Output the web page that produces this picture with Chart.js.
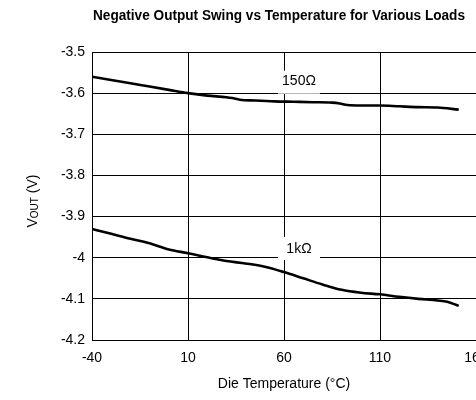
<!DOCTYPE html>
<html>
<head>
<meta charset="utf-8">
<script src="https://cdn.jsdelivr.net/npm/chart.js@4.4.0/dist/chart.umd.min.js"></script>
<style>
  html, body { margin: 0; padding: 0; background: #fff; overflow: hidden; width: 476px; height: 400px; }
  #wrap { position: relative; width: 520px; height: 400px; }
</style>
</head>
<body>
<div id="wrap"><canvas id="chart"></canvas></div>
<script>
const titleText = "Negative Output Swing vs Temperature for Various Loads";
const xTitle = "Die Temperature (°C)";
const yTickLabels = ["-4.2", "-4.1", "-4", "-3.9", "-3.8", "-3.7", "-3.6", "-3.5"];
const curveLabels = ["150Ω", "1kΩ"];

// 150 ohm load
const temp150 = [-40, -30, -20, -10, 0, 10, 20, 30, 33, 37, 45, 55, 65, 75, 85, 89, 93, 100, 110, 120, 130, 140, 151];
const vout150 = [-3.560, -3.568, -3.576, -3.584, -3.592, -3.600, -3.606, -3.610, -3.612, -3.616, -3.618, -3.620, -3.621, -3.622, -3.623, -3.625, -3.629, -3.630, -3.630, -3.632, -3.634, -3.635, -3.640];

// 1k ohm load
const temp1k = [-40, -30, -20, -10, 0, 10, 20, 30, 40, 50, 60, 70, 80, 90, 100, 110, 120, 130, 140, 145, 151];
const vout1k = [-3.930, -3.942, -3.954, -3.965, -3.980, -3.989, -3.999, -4.008, -4.014, -4.022, -4.035, -4.050, -4.065, -4.078, -4.085, -4.089, -4.095, -4.100, -4.104, -4.107, -4.117];

const FONT = '"Liberation Sans", Arial, sans-serif';
Chart.defaults.font.family = FONT;
Chart.defaults.color = "#000";

// labels on the curves, title and the V_OUT axis title
const annotate = {
    id: "annotate",
    beforeDatasetsDraw(chart) {
        const { ctx, scales: { x, y } } = chart;
        ctx.save();
        ctx.font = "14px " + FONT;
        ctx.textAlign = "center";
        ctx.textBaseline = "middle";
        const spots = [[curveLabels[0], 67.8, -3.5698, 10, 13], [curveLabels[1], 67.8, -3.9786, 12, 11]];
        spots.forEach(([t, tx, ty, up, down]) => {
            const px = x.getPixelForValue(tx);
            const py = y.getPixelForValue(ty);
            ctx.fillStyle = "#fff";
            ctx.fillRect(px - 21, py - up, 42, up + down);
            ctx.fillStyle = "#000";
            ctx.fillText(t, px, py);
        });
        ctx.restore();
    },
    afterDraw(chart) {
        const ctx = chart.ctx;
        ctx.save();
        // title, condensed bold
        ctx.font = 'bold 14px "Liberation Sans Narrow", "Liberation Sans", Arial, sans-serif';
        ctx.textAlign = "left";
        ctx.textBaseline = "middle";
        const w = ctx.measureText(titleText).width;
        const target = 372;
        ctx.translate(279 - target / 2, 16);
        ctx.scale(target / w, 1);
        ctx.fillText(titleText, 0, 0);
        ctx.restore();

        // y axis title: V with OUT subscript
        ctx.save();
        ctx.translate(33, 201);
        ctx.rotate(-Math.PI / 2);
        ctx.textBaseline = "middle";
        ctx.textAlign = "left";
        const big = "14px " + FONT, small = "10px " + FONT;
        ctx.font = big; const wV = ctx.measureText("V").width; const wR = ctx.measureText(" (V)").width;
        ctx.font = small; const wO = ctx.measureText("OUT").width;
        let cx = -(wV + wO + wR) / 2;
        ctx.font = big; ctx.fillText("V", cx, 0); cx += wV;
        ctx.font = small; ctx.fillText("OUT", cx, 2); cx += wO;
        ctx.font = big; ctx.fillText(" (V)", cx, 0);
        ctx.restore();
    }
};

new Chart(document.getElementById("chart"), {
    type: "line",
    data: {
        datasets: [
            {
                label: curveLabels[0],
                data: temp150.map((t, i) => ({ x: t, y: vout150[i] })),
                borderColor: "#000",
                borderWidth: 2.6,
                pointRadius: 0,
                cubicInterpolationMode: "monotone"
            },
            {
                label: curveLabels[1],
                data: temp1k.map((t, i) => ({ x: t, y: vout1k[i] })),
                borderColor: "#000",
                borderWidth: 2.6,
                pointRadius: 0,
                cubicInterpolationMode: "monotone"
            }
        ]
    },
    options: {
        responsive: true,
        maintainAspectRatio: false,
        animation: false,
        layout: { padding: { top: 52, left: 0, right: 44, bottom: 0 } },
        plugins: { legend: { display: false }, tooltip: { enabled: false } },
        scales: {
            x: {
                type: "linear",
                min: -40,
                max: 160,
                ticks: { stepSize: 50, padding: 10, font: { size: 14 } },
                grid: { color: "#000", lineWidth: 1, drawTicks: false },
                border: { color: "#000", width: 1 },
                title: { display: true, text: xTitle, font: { size: 14 }, padding: { top: 0, bottom: 7 } },
                afterFit(s) { s.height = 60; }
            },
            y: {
                min: -4.2,
                max: -3.5,
                ticks: {
                    stepSize: 0.1,
                    padding: 7,
                    font: { size: 14 },
                    callback: (v, i) => yTickLabels[i]
                },
                grid: { color: "#000", lineWidth: 1, drawTicks: false },
                border: { color: "#000", width: 1 },
                afterFit(s) { s.width = 92; }
            }
        }
    },
    plugins: [annotate]
});
</script>
</body>
</html>
